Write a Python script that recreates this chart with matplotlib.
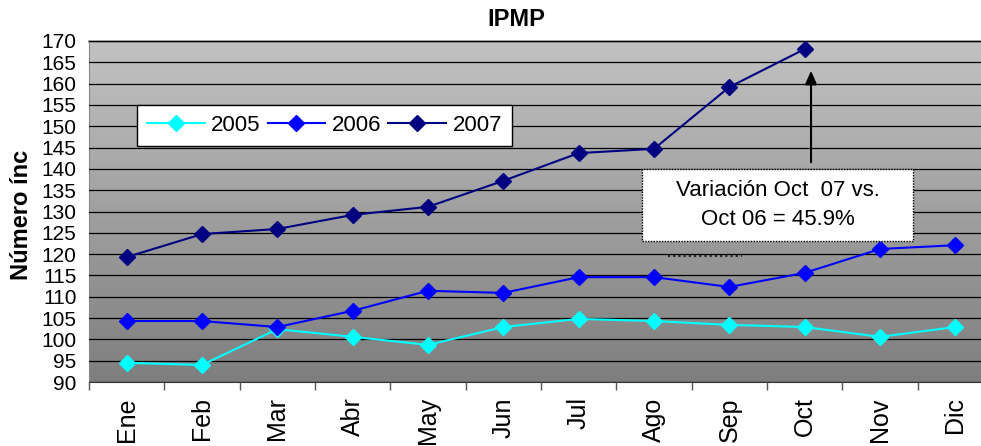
import numpy as np
import matplotlib
matplotlib.use('Agg')
import matplotlib.pyplot as plt
from matplotlib.patches import Rectangle
from matplotlib.ticker import MultipleLocator, FixedLocator

plt.rcParams['font.family'] = ['Liberation Sans', 'DejaVu Sans']

months = ['Ene', 'Feb', 'Mar', 'Abr', 'May', 'Jun', 'Jul', 'Ago', 'Sep', 'Oct', 'Nov', 'Dic']
ipmp_2005 = [94.5, 94.0, 102.4, 100.6, 98.7, 102.9, 104.8, 104.3, 103.4, 102.9, 100.6, 102.9]
ipmp_2006 = [104.3, 104.3, 102.9, 106.7, 111.4, 110.9, 114.6, 114.6, 112.3, 115.6, 121.2, 122.1]
ipmp_2007 = [119.3, 124.7, 125.9, 129.2, 131.1, 137.2, 143.7, 144.7, 159.2, 168.1]
series_labels = ['2005', '2006', '2007']
series_colors = ['#00ffff', '#0000ff', '#000080']
note = 'Variación Oct  07 vs.\nOct 06 = 45.9%'

fig = plt.figure(figsize=(9.81, 4.46), dpi=100)
ax = fig.add_axes([89 / 981, 64 / 446, 904 / 981, 341 / 446])

# gray gradient background (light at top, darker at bottom)
grad = np.linspace(0, 1, 256).reshape(-1, 1)
ax.imshow(grad, cmap=matplotlib.colors.LinearSegmentedColormap.from_list('g', ['#c2c2c2', '#7e7e7e']),
          extent=[0, 1, 0, 1], transform=ax.transAxes, aspect='auto', zorder=0, origin='upper')

x = np.arange(len(months))
for vals, lab, col in zip([ipmp_2005, ipmp_2006, ipmp_2007], series_labels, series_colors):
    ax.plot(x[:len(vals)], vals, color=col, lw=1.5, marker='D', ms=8.5, mec=col, mfc=col,
            label=lab, zorder=3)

ax.set_xlim(-0.5, len(months) - 0.5)
ax.set_ylim(90, 170)
ax.yaxis.set_major_locator(MultipleLocator(5))
ax.grid(axis='y', color='black', lw=0.9, zorder=1)
ax.set_axisbelow(False)
ax.tick_params(axis='y', length=0, pad=9, labelsize=15)

ax.set_xticks(x)
ax.set_xticklabels(months, rotation=90, fontsize=18)
ax.xaxis.set_minor_locator(FixedLocator(np.arange(-0.5, len(months), 1.0)))
ax.tick_params(axis='x', which='major', length=0, pad=11)
ax.tick_params(axis='x', which='minor', length=6, color='#555555', width=1)

ax.spines['right'].set_visible(False)
ax.spines['top'].set_color('#999999')
ax.spines['top'].set_linewidth(2)
ax.spines['left'].set_color('#888888')
ax.spines['bottom'].set_color('#333333')

leg = ax.legend(loc='upper left', bbox_to_anchor=(0.053, 0.812), borderaxespad=0, ncol=3,
                fontsize=16, frameon=True, fancybox=False, framealpha=1, edgecolor='black',
                handlelength=2.6, columnspacing=0.3, handletextpad=0.3, borderpad=0.45)
leg.get_frame().set_linewidth(1)

# annotation box and arrow
ax.add_patch(Rectangle((0.6117, 0.4135), 0.2998, 0.2111, transform=ax.transAxes, facecolor='white',
                       edgecolor='black', linestyle=(0, (1, 1)), lw=1, zorder=4))
ax.text(0.6117 + 0.2998 / 2, 0.4135 + 0.2111 / 2, note, transform=ax.transAxes, ha='center',
        va='center', fontsize=16, linespacing=1.5, zorder=5)
ax.annotate('', xy=(0.7987, 0.921), xytext=(0.7987, 0.636), xycoords='axes fraction',
            arrowprops=dict(arrowstyle='-|>,head_length=0.8,head_width=0.35', color='black', lw=1.5),
            zorder=5)
ax.plot([0.6405, 0.7223], [0.3695, 0.3695], transform=ax.transAxes, color='#222222',
        linestyle=(0, (1, 1.5)), lw=1.5, zorder=2)

fig.text(516 / 981, 1 - 20 / 446, 'IPMP', ha='center', va='center', fontsize=17, fontweight='bold')
fig.text(22 / 981, 1 - 215 / 446, 'Número ínc', ha='center', va='center', rotation=90,
         fontsize=17, fontweight='bold')

fig.savefig('out.png', dpi=100)
